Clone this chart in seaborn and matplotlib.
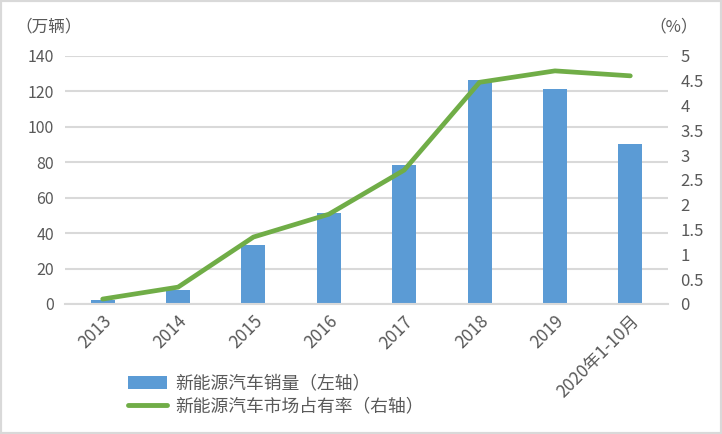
import numpy as np
import pandas as pd
import matplotlib
matplotlib.use("Agg")
import matplotlib.pyplot as plt
import seaborn as sns
from matplotlib.patches import Rectangle, Patch
from matplotlib.lines import Line2D

categories = ["2013", "2014", "2015", "2016", "2017", "2018", "2019", "2020年1-10月"]
sales = [2.0, 8.0, 33.3, 51.3, 78.5, 126.5, 121.2, 90.5]
share = [0.1, 0.34, 1.35, 1.81, 2.7, 4.47, 4.7, 4.6]
left_ticks = [0, 20, 40, 60, 80, 100, 120, 140]
right_ticks = [0, 0.5, 1, 1.5, 2, 2.5, 3, 3.5, 4, 4.5, 5]
right_labels = ["0", "0.5", "1", "1.5", "2", "2.5", "3", "3.5", "4", "4.5", "5"]
bar_label = "新能源汽车销量（左轴）"
line_label = "新能源汽车市场占有率（右轴）"

sns.set_theme(style="white")
plt.rcParams['font.family'] = ['Noto Sans CJK SC', 'DejaVu Sans']

BLUE = "#5b9bd5"
GREEN = "#70ad47"
GRID = "#d9d9d9"
TXT = "#595959"

df = pd.DataFrame({"cat": categories, "sales": sales, "share": share})

fig = plt.figure(figsize=(7.22, 4.34), dpi=100)
ax = fig.add_axes([65/722, 1-304/434, (668-65)/722, (304-56)/434])

sns.barplot(data=df, x="cat", y="sales", color=BLUE, width=0.32, ax=ax,
            saturation=1, zorder=2, linewidth=0)
ax.set_ylim(0, 140)
ax.set_xlim(-0.5, len(categories) - 0.5)
ax.set_yticks(left_ticks)
ax.set_yticklabels([str(t) for t in left_ticks])
ax.grid(axis="y", color=GRID, linewidth=1.5, zorder=0)
ax.set_axisbelow(True)
for s in ["left", "right", "top"]:
    ax.spines[s].set_visible(False)
ax.spines["bottom"].set_color(GRID)
ax.spines["bottom"].set_linewidth(1.5)
ax.set_xlabel("")
ax.set_ylabel("")
ax.tick_params(axis="y", length=0, pad=8, labelsize=11.5, labelcolor=TXT)
ax.tick_params(axis="x", length=0, pad=6, labelsize=12.5, labelcolor=TXT)
for lab in ax.get_xticklabels():
    lab.set_rotation(45)
    lab.set_ha("right")
    lab.set_rotation_mode("anchor")

ax2 = ax.twinx()
sns.lineplot(x=np.arange(len(categories)), y=share, color=GREEN, linewidth=3.4,
             ax=ax2, zorder=3)
ax2.set_ylim(0, 5)
ax2.set_yticks(right_ticks)
ax2.set_yticklabels(right_labels)
ax2.tick_params(axis="y", length=0, pad=9, labelsize=12, labelcolor=TXT)
for s in ["left", "right", "top", "bottom"]:
    ax2.spines[s].set_visible(False)
ax2.set_ylabel("")
ax2.grid(False)
ax2.set_xlim(-0.5, len(categories) - 0.5)

fig.text(15/722, 1-27/434, "（万辆）", fontsize=12, color=TXT, va="center", ha="left")
fig.text(698/722, 1-27/434, "（%）", fontsize=12, color=TXT, va="center", ha="right")

handles = [Patch(facecolor=BLUE, edgecolor="none"),
           Line2D([0], [0], color=GREEN, linewidth=3.5)]
fig.legend(handles, [bar_label, line_label], loc="upper left",
           bbox_to_anchor=(123/722, 1-369/434), frameon=False,
           fontsize=12.8, labelcolor=TXT, handlelength=2.2, handleheight=0.75,
           handletextpad=0.45, labelspacing=0.3, borderaxespad=0, borderpad=0.3)

fig.patches.append(Rectangle((0, 0), 1, 1, transform=fig.transFigure, fill=False,
                             edgecolor=GRID, linewidth=3, zorder=10))

fig.savefig("out.png", dpi=100)
